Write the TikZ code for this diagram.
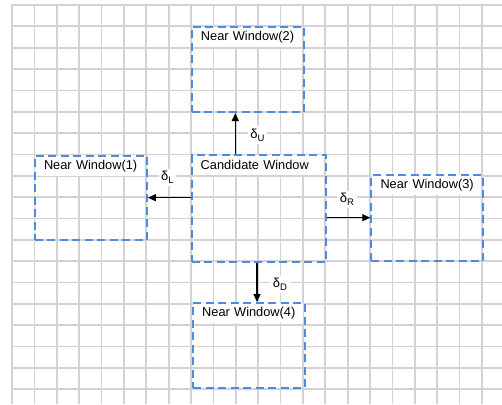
\documentclass[tikz,border=0pt]{standalone}
\usepackage{fontspec}
\setmainfont{Liberation Sans}
\usetikzlibrary{arrows.meta}
\definecolor{gridgray}{RGB}{211,211,211}
\definecolor{winblue}{RGB}{80,138,218}
\tikzset{
  gridline/.style={draw=gridgray, line width=1.7pt},
  winbox/.style={draw=winblue, line width=2pt, dash pattern=on 8pt off 4.5pt,
                 anchor=north west, inner sep=0pt},
  wintitle/.style={fill=white, anchor=north west, minimum height=20pt,
                   inner xsep=0pt, inner ysep=0pt, align=left,
                   font=\fontsize{12.8}{14}\selectfont},
  offset/.style={fill=white, inner sep=2.5pt, font=\fontsize{13}{14}\selectfont},
  shiftarrow/.style={draw=black, line width=1.2pt, -{Triangle[length=8pt,width=7pt]}}
}
% a title set flush left, never broken across lines
\newcommand{\wtitle}[1]{\hspace*{9pt}\mbox{#1}}
\newcommand{\offs}[1]{δ\raisebox{-0.45ex}{\fontsize{9.5}{10}\selectfont #1}}
\begin{document}
\begin{tikzpicture}[x=1pt,y=-1pt]
  \useasboundingbox (0,0) rectangle (502,404);
  \fill[white] (0,0) rectangle (502,404);
  % background grid
  \foreach \i in {0,...,21}
    \draw[gridline] ({12+22.38*\i},5) -- ({12+22.38*\i},404);
  \foreach \j in {0,...,18}
    \draw[gridline] (12,{5+21.35*\j}) -- (502,{5+21.35*\j});

  % title bands (white, behind the dashed borders)
  \node[wintitle, text width=110pt] (t2) at (191.7,26.8) {\wtitle{Near Window(2)}};
  \node[wintitle, text width=110.1pt] (t1) at (34.8,155.5) {\wtitle{Near Window(1)}};
  \node[wintitle, text width=132.5pt] (tc) at (191.5,155) {\wtitle{Candidate Window}};
  \node[wintitle, text width=109.7pt] (t3) at (371.3,175) {\wtitle{Near Window(3)}};
  \node[wintitle, text width=109.7pt] (t4) at (193,303) {\wtitle{Near Window(4)}};

  % windows
  \node[winbox, minimum width=112pt, minimum height=85.2pt] (nw2) at (190.7,25.8) {};
  \node[winbox, minimum width=112.1pt, minimum height=84.5pt] (nw1) at (33.8,154.5) {};
  \node[winbox, minimum width=134.5pt, minimum height=106.5pt] (cand) at (190.5,154) {};
  \node[winbox, minimum width=111.7pt, minimum height=86.3pt] (nw3) at (370.3,174) {};
  \node[winbox, minimum width=111.7pt, minimum height=85pt] (nw4) at (192,302) {};

  % arrow positions
  \coordinate (upx) at (235.3,0);
  \coordinate (downx) at (257,0);
  \coordinate (lefty) at (0,197.7);
  \coordinate (righty) at (0,217.7);

  % offsets between the candidate and its neighbours
  \draw[shiftarrow] (cand.north -| upx) -- (nw2.south -| upx);
  \draw[shiftarrow] (cand.west |- lefty) -- (nw1.east |- lefty);
  \draw[shiftarrow] (cand.east |- righty) -- (nw3.west |- righty);
  \draw[shiftarrow] (cand.south -| downx) -- (nw4.north -| downx);

  \node[offset] (du) at (257.5,135) {\offs{U}};
  \node[offset] (dl) at (167.5,177.5) {\offs{L}};
  \node[offset] (dr) at (347,199.5) {\offs{R}};
  \node[offset] (dd) at (280,284.5) {\offs{D}};
\end{tikzpicture}
\end{document}
